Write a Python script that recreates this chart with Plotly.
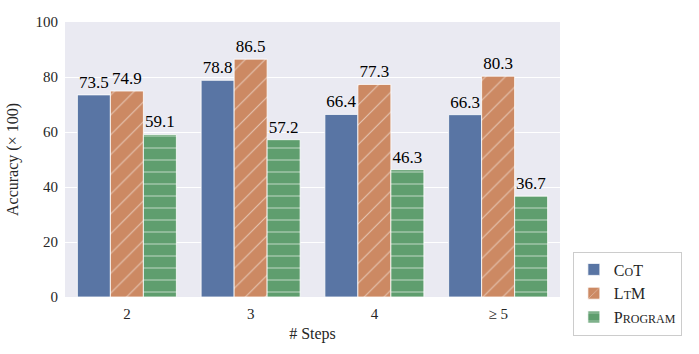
import plotly.graph_objects as go

categories = ["2", "3", "4", "≥ 5"]
cot = [73.5, 78.8, 66.4, 66.3]
ltm = [74.9, 86.5, 77.3, 80.3]
program = [59.1, 57.2, 46.3, 36.7]
y_ticks = [0, 20, 40, 60, 80, 100]

FONT = "'Liberation Serif', 'DejaVu Serif', serif"
sc = "<span style='font-size:12px'>{}</span>"
names = ["C" + sc.format("O") + "T", "L" + sc.format("T") + "M", "P" + sc.format("ROGRAM")]
colors = ["#5975a4", "#cc8963", "#5f9e6e"]
patterns = [dict(shape=""), dict(shape="/", fgcolor="white", size=14, solidity=0.08),
            dict(shape="-", fgcolor="white", size=12, solidity=0.1)]

fig = go.Figure()
for name, vals, col, pat in zip(names, [cot, ltm, program], colors, patterns):
    fig.add_trace(go.Bar(
        x=categories, y=vals, name=name,
        marker=dict(color=col, pattern=pat, line=dict(color="white", width=0.8)),
        text=[f"{v:.1f}" for v in vals], textposition="outside",
        textfont=dict(family=FONT, size=17, color="black"),
        cliponaxis=False,
    ))

fig.update_layout(
    width=699, height=354,
    margin=dict(l=62, r=139, t=22, b=57),
    barmode="group", bargap=0.2, bargroupgap=0,
    plot_bgcolor="#EAEAF2", paper_bgcolor="white",
    font=dict(family=FONT, size=15, color="#262626"),
    showlegend=True,
    legend=dict(x=1.026, y=-0.14, xanchor="left", yanchor="bottom",
                bgcolor="white", bordercolor="#CCCCCC", borderwidth=1,
                font=dict(family=FONT, size=16, color="#262626"),
                itemwidth=30, tracegroupgap=4),
    xaxis=dict(title=dict(text="# Steps", font=dict(family=FONT, size=16), standoff=6),
               showgrid=False, ticks="", tickfont=dict(family=FONT, size=15),
               ticklabelstandoff=6),
    yaxis=dict(title=dict(text="Accuracy (× 100)", font=dict(family=FONT, size=16), standoff=12),
               range=[0, 100], tickvals=y_ticks, gridcolor="white", gridwidth=1,
               zeroline=False, ticks="", tickfont=dict(family=FONT, size=15),
               ticklabelstandoff=6),
)

fig.write_html("out.html")
